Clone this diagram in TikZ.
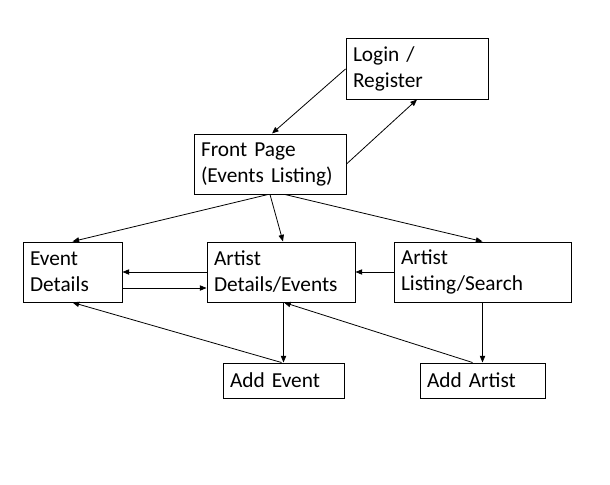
\documentclass[tikz,border=0pt]{standalone}
\usepackage{fontspec}
\setmainfont{Carlito}
\usepackage{tikz}
\usetikzlibrary{arrows.meta, positioning, calc}

\begin{document}
\begin{tikzpicture}[x=0.75pt, y=-0.75pt,
    pagebox/.style={draw, line width=0.75pt, align=left, inner xsep=5.25pt, inner ysep=0pt,
      font=\fontsize{16}{19.5}\selectfont},
    link/.style={-{Triangle[length=5pt,width=4pt]}, line width=0.6pt}]
  \useasboundingbox (0,0) rectangle (610,485);
  % Boxes
  \node[pagebox, text width=96pt, minimum height=45pt] (login) at (417,69) {Login /\\Register};
  \node[pagebox, text width=103.5pt, minimum height=45pt] (front) at (270,164) {Front Page\\(Events Listing)};
  \node[pagebox, text width=63.75pt, minimum height=45pt] (evdet) at (72.5,272) {Event\\Details};
  \node[pagebox, text width=100.5pt, minimum height=45pt] (artdet) at (281,272) {Artist\\Details/Events};
  \node[pagebox, text width=122.25pt, minimum height=45pt] (artlist) at (482.5,272) {Artist\\Listing/Search};
  \node[pagebox, text width=80.25pt, minimum height=26.25pt] (addev) at (283.5,380.5) {Add Event};
  \node[pagebox, text width=83.25pt, minimum height=26.25pt] (addart) at (482.5,380.5) {Add Artist};
  % Arrows
  \draw[link] (login.west) -- ($(front.north)+(2,0)$);
  \draw[link] (front.east) -- (login.south);
  \draw[link] ($(front.south)+(-2,0)$) -- (evdet.north);
  \draw[link] (front.south) -- ($(artdet.north)+(2,0)$);
  \draw[link] ($(front.south)+(15,0)$) -- (artlist.north);
  \draw[link] (artdet.west) -- (evdet.east);
  \draw[link] ($(evdet.east)+(0,16)$) -- ($(artdet.west)+(0,16)$);
  \draw[link] (artlist.west) -- (artdet.east);
  \draw[link] (artlist.south) -- (addart.north);
  \draw[link] (addev.north |- artdet.south) -- (addev.north);
  \draw[link] ($(addev.north)+(-2,0)$) -- (evdet.south);
  \draw[link] ($(addart.north)+(-10,0)$) -- ($(artdet.south)+(3,0)$);
\end{tikzpicture}
\end{document}
